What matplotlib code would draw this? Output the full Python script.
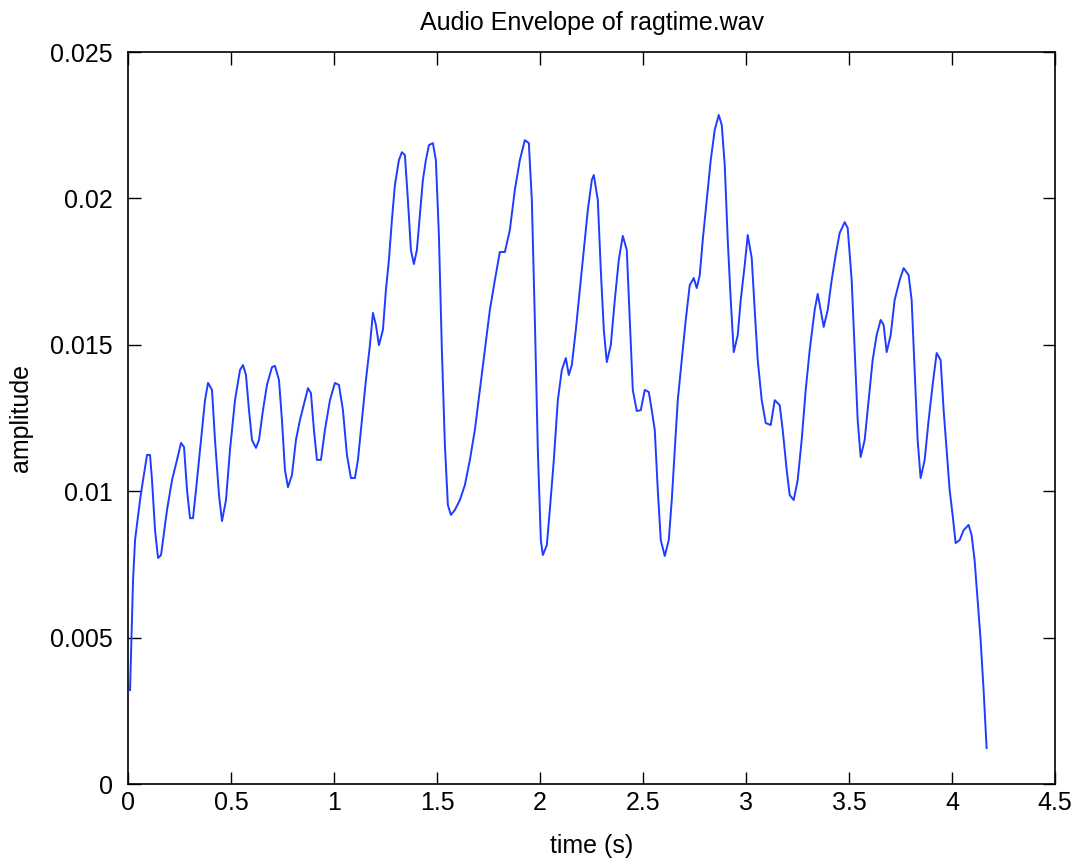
import matplotlib
matplotlib.use("Agg")
import matplotlib.pyplot as plt

# Envelope samples (time in seconds, amplitude)
time_s = [
    0.0097, 0.0243, 0.0340, 0.0582, 0.0728, 0.0922, 0.1067, 0.1164, 0.1310, 0.1456,
    0.1601, 0.1698, 0.1892, 0.2135, 0.2377, 0.2572, 0.2717, 0.2863, 0.3008, 0.3154,
    0.3299, 0.3493, 0.3736, 0.3882, 0.4076, 0.4221, 0.4415, 0.4561, 0.4755, 0.4949,
    0.5192, 0.5434, 0.5580, 0.5725, 0.5871, 0.6016, 0.6211, 0.6356, 0.6550, 0.6744,
    0.6987, 0.7132, 0.7327, 0.7472, 0.7618, 0.7763, 0.7957, 0.8151, 0.8345, 0.8588,
    0.8734, 0.8879, 0.9025, 0.9170, 0.9364, 0.9558, 0.9801, 1.0044, 1.0238, 1.0432,
    1.0626, 1.0820, 1.1014, 1.1160, 1.1354, 1.1548, 1.1742, 1.1888, 1.2033, 1.2179,
    1.2373, 1.2518, 1.2664, 1.2809, 1.2955, 1.3149, 1.3294, 1.3440, 1.3586, 1.3731,
    1.3877, 1.4022, 1.4168, 1.4313, 1.4459, 1.4605, 1.4799, 1.4944, 1.5090, 1.5235,
    1.5381, 1.5526, 1.5672, 1.5866, 1.6109, 1.6351, 1.6594, 1.6836, 1.7079, 1.7322,
    1.7564, 1.7807, 1.8049, 1.8292, 1.8535, 1.8777, 1.9020, 1.9262, 1.9456, 1.9602,
    1.9748, 1.9893, 2.0039, 2.0136, 2.0330, 2.0475, 2.0670, 2.0864, 2.1058, 2.1252,
    2.1397, 2.1543, 2.1737, 2.1931, 2.2125, 2.2319, 2.2513, 2.2610, 2.2804, 2.2950,
    2.3096, 2.3241, 2.3435, 2.3629, 2.3823, 2.4017, 2.4211, 2.4357, 2.4503, 2.4697,
    2.4891, 2.5085, 2.5279, 2.5425, 2.5570, 2.5716, 2.5861, 2.6055, 2.6249, 2.6395,
    2.6541, 2.6686, 2.6880, 2.7074, 2.7268, 2.7462, 2.7608, 2.7753, 2.7899, 2.8093,
    2.8287, 2.8481, 2.8675, 2.8821, 2.8967, 2.9112, 2.9258, 2.9403, 2.9597, 2.9743,
    2.9937, 3.0083, 3.0277, 3.0422, 3.0568, 3.0762, 3.0956, 3.1199, 3.1393, 3.1635,
    3.1781, 3.1975, 3.2120, 3.2314, 3.2508, 3.2702, 3.2897, 3.3091, 3.3333, 3.3479,
    3.3624, 3.3770, 3.3964, 3.4158, 3.4352, 3.4546, 3.4789, 3.4935, 3.5129, 3.5274,
    3.5420, 3.5565, 3.5759, 3.5953, 3.6147, 3.6341, 3.6536, 3.6681, 3.6827, 3.7021,
    3.7215, 3.7458, 3.7652, 3.7894, 3.8040, 3.8185, 3.8331, 3.8476, 3.8671, 3.8865,
    3.9059, 3.9253, 3.9447, 3.9593, 3.9738, 3.9884, 4.0029, 4.0175, 4.0369, 4.0563,
    4.0805, 4.0951, 4.1096, 4.1242, 4.1388, 4.1533, 4.1679,
]
amplitude = [
    0.00321, 0.00697, 0.00833, 0.00970, 0.01038, 0.01124, 0.01124, 0.01038, 0.00867, 0.00772,
    0.00782, 0.00833, 0.00936, 0.01038, 0.01107, 0.01165, 0.01151, 0.01004, 0.00908, 0.00908,
    0.01004, 0.01141, 0.01311, 0.01370, 0.01346, 0.01175, 0.00987, 0.00898, 0.00970, 0.01141,
    0.01311, 0.01414, 0.01431, 0.01397, 0.01277, 0.01175, 0.01148, 0.01175, 0.01277, 0.01363,
    0.01424, 0.01428, 0.01380, 0.01243, 0.01072, 0.01014, 0.01055, 0.01175, 0.01243, 0.01311,
    0.01352, 0.01335, 0.01209, 0.01107, 0.01107, 0.01209, 0.01311, 0.01370, 0.01363, 0.01277,
    0.01124, 0.01045, 0.01045, 0.01107, 0.01243, 0.01380, 0.01499, 0.01609, 0.01568, 0.01499,
    0.01551, 0.01687, 0.01790, 0.01926, 0.02046, 0.02131, 0.02158, 0.02148, 0.01995, 0.01824,
    0.01776, 0.01824, 0.01943, 0.02063, 0.02131, 0.02182, 0.02189, 0.02131, 0.01875, 0.01482,
    0.01158, 0.00953, 0.00919, 0.00936, 0.00970, 0.01021, 0.01107, 0.01209, 0.01346, 0.01482,
    0.01619, 0.01721, 0.01817, 0.01817, 0.01892, 0.02029, 0.02131, 0.02199, 0.02189, 0.01995,
    0.01585, 0.01141, 0.00833, 0.00782, 0.00816, 0.00936, 0.01107, 0.01311, 0.01414, 0.01455,
    0.01397, 0.01431, 0.01551, 0.01687, 0.01824, 0.01960, 0.02063, 0.02080, 0.01995, 0.01755,
    0.01551, 0.01441, 0.01499, 0.01653, 0.01790, 0.01872, 0.01824, 0.01585, 0.01346, 0.01274,
    0.01277, 0.01346, 0.01339, 0.01277, 0.01209, 0.01004, 0.00833, 0.00779, 0.00833, 0.00970,
    0.01141, 0.01311, 0.01448, 0.01585, 0.01704, 0.01728, 0.01694, 0.01738, 0.01858, 0.01995,
    0.02131, 0.02234, 0.02285, 0.02251, 0.02114, 0.01858, 0.01653, 0.01475, 0.01533, 0.01653,
    0.01773, 0.01875, 0.01796, 0.01619, 0.01448, 0.01311, 0.01233, 0.01226, 0.01311, 0.01294,
    0.01209, 0.01072, 0.00987, 0.00970, 0.01038, 0.01175, 0.01346, 0.01482, 0.01619, 0.01674,
    0.01619, 0.01561, 0.01619, 0.01721, 0.01807, 0.01882, 0.01919, 0.01899, 0.01721, 0.01482,
    0.01243, 0.01117, 0.01175, 0.01311, 0.01448, 0.01533, 0.01585, 0.01568, 0.01475, 0.01533,
    0.01653, 0.01721, 0.01762, 0.01738, 0.01653, 0.01414, 0.01175, 0.01045, 0.01107, 0.01243,
    0.01363, 0.01472, 0.01448, 0.01277, 0.01141, 0.01004, 0.00919, 0.00823, 0.00833, 0.00867,
    0.00885, 0.00850, 0.00765, 0.00628, 0.00492, 0.00321, 0.00123,
]

x_ticks = [0, 0.5, 1, 1.5, 2, 2.5, 3, 3.5, 4, 4.5]
x_tick_labels = ["0", "0.5", "1", "1.5", "2", "2.5", "3", "3.5", "4", "4.5"]
y_ticks = [0, 0.005, 0.01, 0.015, 0.02, 0.025]
y_tick_labels = ["0", "0.005", "0.01", "0.015", "0.02", "0.025"]

plt.rcParams["font.family"] = ["Liberation Sans", "DejaVu Sans"]

fig = plt.figure(figsize=(10.76, 8.63), dpi=100)
ax = fig.add_axes([0.119, 0.0915, 0.8615, 0.8482])

ax.plot(time_s, amplitude, color="#1f3cff", linewidth=1.4)

ax.set_xlim(0, 4.5)
ax.set_ylim(0, 0.025)
ax.set_xticks(x_ticks)
ax.set_xticklabels(x_tick_labels)
ax.set_yticks(y_ticks)
ax.set_yticklabels(y_tick_labels)

ax.tick_params(direction="in", length=9, width=1, top=True, right=True,
               labelsize=18, colors="black")
ax.tick_params(axis="x", pad=5)
ax.tick_params(axis="y", pad=11)
for spine in ax.spines.values():
    spine.set_linewidth(1.2)

ax.set_title("Audio Envelope of ragtime.wav", fontsize=18, pad=16)
ax.set_xlabel("time (s)", fontsize=18, labelpad=14)
ax.set_ylabel("amplitude", fontsize=18, labelpad=12)

fig.savefig("out.png", dpi=100)
